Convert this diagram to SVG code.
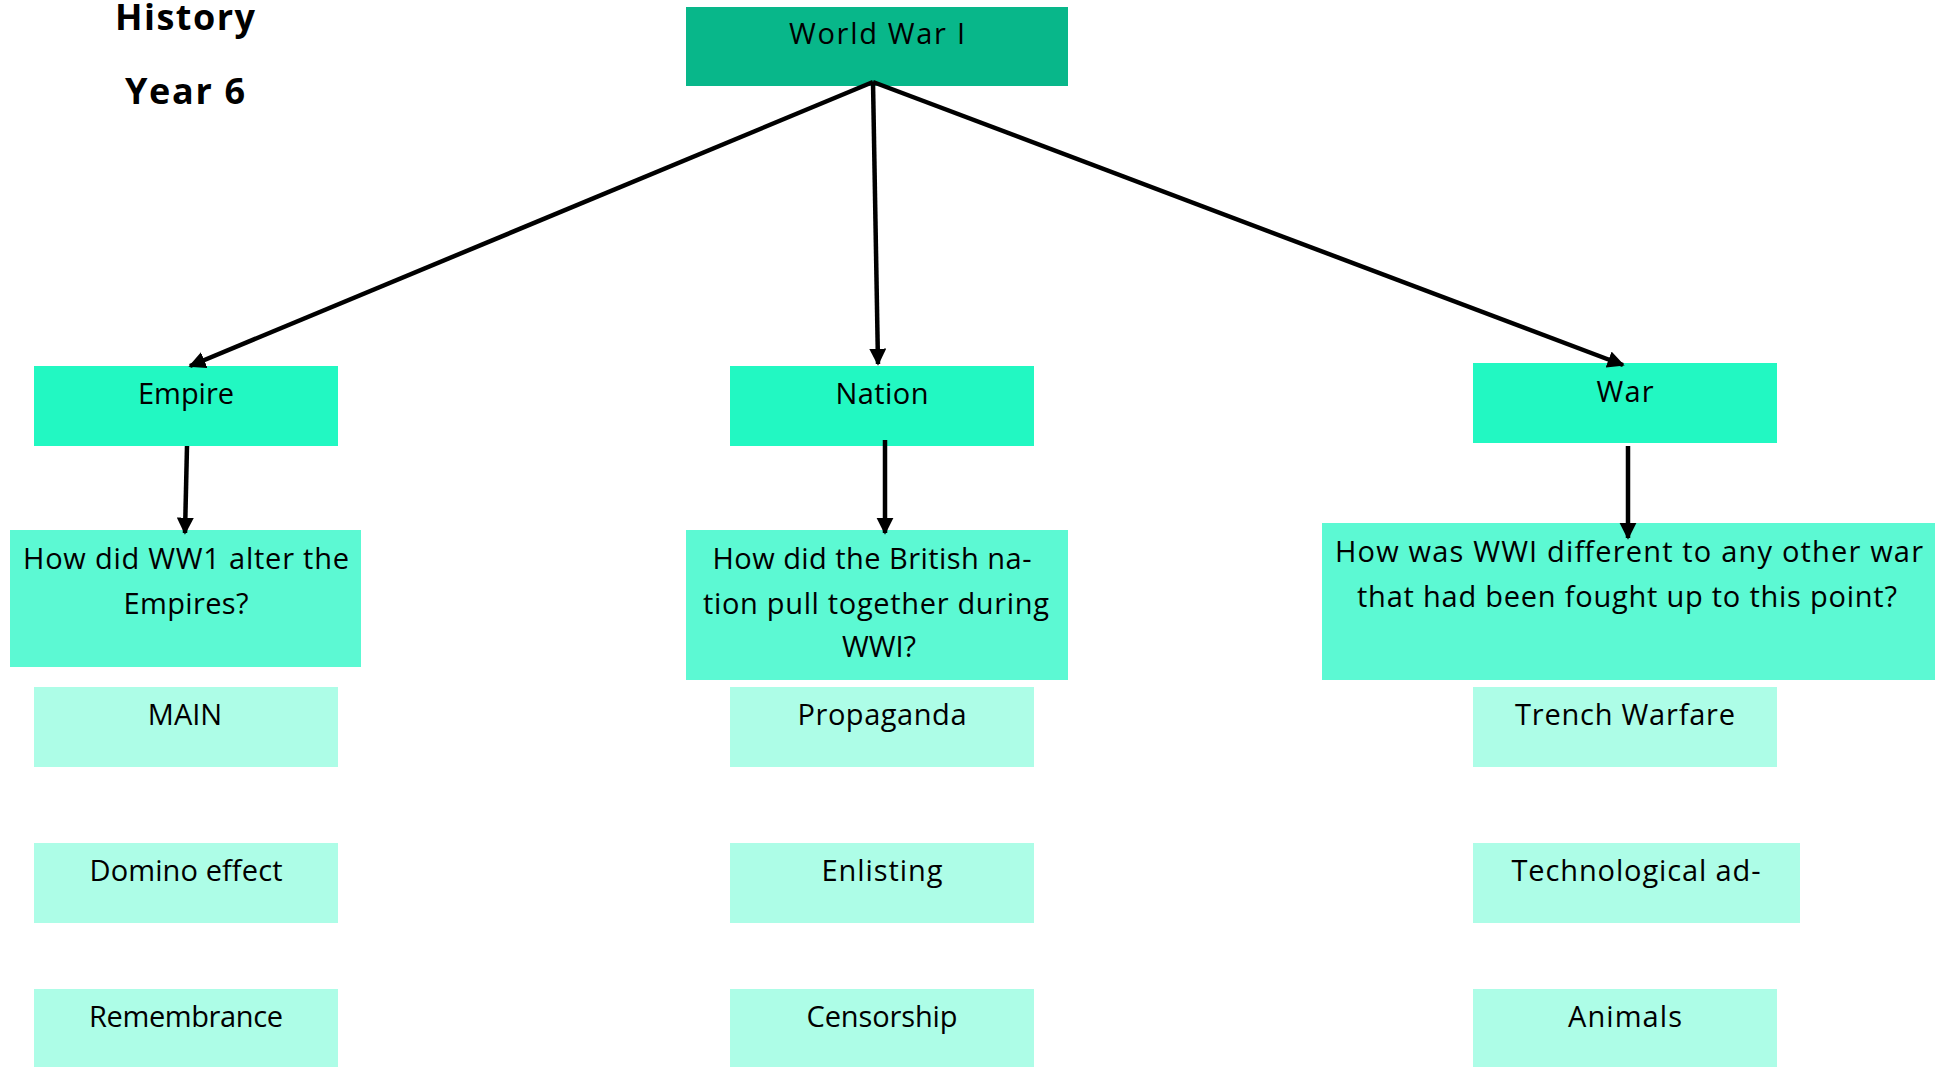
<svg xmlns="http://www.w3.org/2000/svg" width="1944" height="1067" viewBox="0 0 1944 1067">
<defs>
<style>
text{font-family:"Open Sans","Noto Sans","Liberation Sans",sans-serif;font-size:29px;fill:#000;text-anchor:middle}
.title{font-weight:bold;font-size:36px}
.top{fill:#08b78a}
.lvl{fill:#22f8c2}
.q{fill:#5cf9d3}
.sub{fill:#adfde7}
.c{stroke:#000;stroke-width:4.5;fill:none;marker-end:url(#ah)}
</style>
<marker id="ah" viewBox="0 0 10 10" refX="9" refY="5" markerWidth="3.8" markerHeight="3.8" orient="auto" markerUnits="strokeWidth">
<path d="M0,0 L10,5 L0,10 Z" fill="#000"/>
</marker>
</defs>
<rect width="1944" height="1067" fill="#fff"/>
<g id="title">
<text class="title" x="185" y="30" textLength="140">History</text>
<text class="title" x="185" y="104" textLength="120">Year 6</text>
</g>
<g id="n-ww1"><rect class="top" x="686" y="7" width="382" height="79"/><text x="877" y="44" textLength="176">World War I</text></g>
<g id="n-empire"><rect class="lvl" x="34" y="366" width="304" height="80"/><text x="186" y="404" textLength="96">Empire</text></g>
<g id="n-nation"><rect class="lvl" x="730" y="366" width="304" height="80"/><text x="882" y="404" textLength="93">Nation</text></g>
<g id="n-war"><rect class="lvl" x="1473" y="363" width="304" height="80"/><text x="1625" y="402" textLength="57">War</text></g>
<g id="n-q1"><rect class="q" x="10" y="530" width="351" height="137"/><text x="186" y="569" textLength="326">How did WW1 alter the</text><text x="186" y="614" textLength="125">Empires?</text></g>
<g id="n-q2"><rect class="q" x="686" y="530" width="382" height="150"/><text x="872" y="569" textLength="319">How did the British na-</text><text x="876" y="614" textLength="346">tion pull together during</text><text x="879" y="657">WWI?</text></g>
<g id="n-q3"><rect class="q" x="1322" y="523" width="613" height="157"/><text x="1629" y="562" textLength="588">How was WWI different to any other war</text><text x="1627" y="607" textLength="540">that had been fought up to this point?</text></g>
<g id="n-main"><rect class="sub" x="34" y="687" width="304" height="80"/><text x="185" y="725">MAIN</text></g>
<g id="n-domino"><rect class="sub" x="34" y="843" width="304" height="80"/><text x="186" y="881" textLength="193">Domino effect</text></g>
<g id="n-remembrance"><rect class="sub" x="34" y="989" width="304" height="78"/><text x="186" y="1027" textLength="194">Remembrance</text></g>
<g id="n-propaganda"><rect class="sub" x="730" y="687" width="304" height="80"/><text x="882" y="725" textLength="169">Propaganda</text></g>
<g id="n-enlisting"><rect class="sub" x="730" y="843" width="304" height="80"/><text x="882" y="881" textLength="121">Enlisting</text></g>
<g id="n-censorship"><rect class="sub" x="730" y="989" width="304" height="78"/><text x="882" y="1027" textLength="151">Censorship</text></g>
<g id="n-trench"><rect class="sub" x="1473" y="687" width="304" height="80"/><text x="1625" y="725" textLength="220">Trench Warfare</text></g>
<g id="n-tech"><rect class="sub" x="1473" y="843" width="327" height="80"/><text x="1636" y="881" textLength="249">Technological ad-</text></g>
<g id="n-animals"><rect class="sub" x="1473" y="989" width="304" height="78"/><text x="1625" y="1027" textLength="114">Animals</text></g>
<g id="connectors">
<line class="c" x1="873" y1="82" x2="190" y2="366"/>
<line class="c" x1="873" y1="82" x2="878" y2="364"/>
<line class="c" x1="873" y1="82" x2="1623" y2="365"/>
<line class="c" x1="187" y1="446" x2="185" y2="533"/>
<line class="c" x1="885" y1="440" x2="885" y2="533"/>
<line class="c" x1="1628" y1="446" x2="1628" y2="538"/>
</g>
</svg>
